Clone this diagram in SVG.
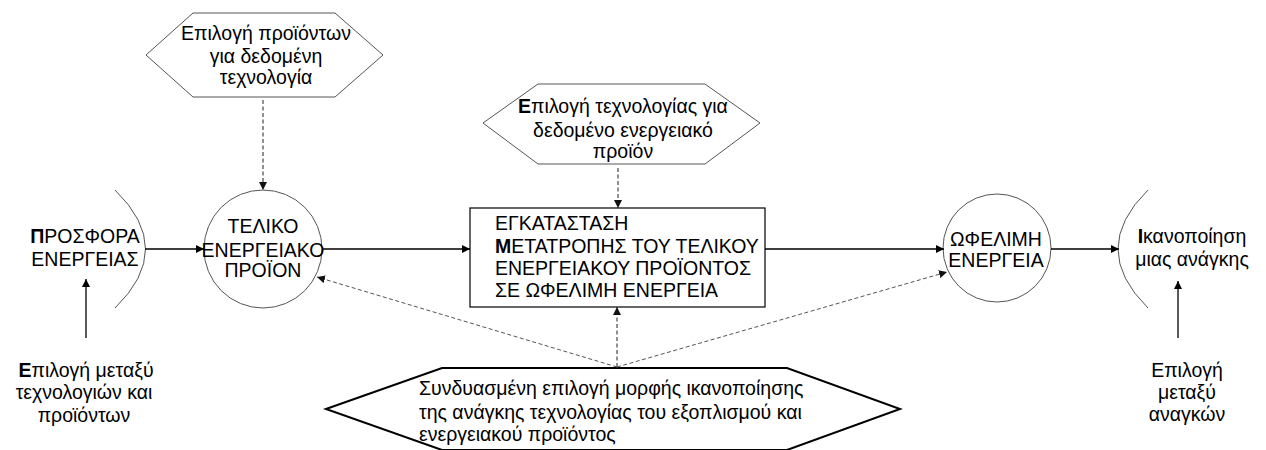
<svg xmlns="http://www.w3.org/2000/svg" width="1266" height="450" viewBox="0 0 1266 450">
<defs>
<marker id="ah" viewBox="0 0 10 10" refX="10" refY="5" markerWidth="8" markerHeight="8" markerUnits="userSpaceOnUse" orient="auto"><path d="M0,0 L10,5 L0,10 z" fill="#000"/></marker>
<marker id="ahs" viewBox="0 0 10 10" refX="10" refY="5" markerWidth="8" markerHeight="8" markerUnits="userSpaceOnUse" orient="auto"><path d="M0,0 L10,5 L0,10 z" fill="#111"/></marker>
<style>
text{font-family:"Liberation Sans",Arial,sans-serif;font-size:19.5px;fill:#000}
.c{text-anchor:middle}
.b{font-weight:bold}
.solid{stroke:#000;stroke-width:1.3;fill:none}
.dash{stroke:#222;stroke-width:1;stroke-dasharray:4,2.5;fill:none}
.dashg{stroke:#555;stroke-width:1;stroke-dasharray:4,2.5;fill:none}
.shape{fill:#fff;stroke:#555;stroke-width:1}
</style>
</defs>
<rect width="1266" height="450" fill="#fff"/>

<g id="supply">
<path d="M115,190 Q176,249 115,308" class="shape" fill="none"/>
<text class="c" x="85" y="243"><tspan class="b">Π</tspan>ΡΟΣΦΟΡΑ</text>
<text class="c" x="85" y="266">ΕΝΕΡΓΕΙΑΣ</text>
</g>

<g id="choice-tech-prod">
<text class="c" x="86" y="377"><tspan class="b">Ε</tspan>πιλογή μεταξύ</text>
<text class="c" x="84" y="399">τεχνολογιών και</text>
<text class="c" x="84" y="422">προϊόντων</text>
</g>

<g id="hex-products">
<polygon class="shape" points="146,55 193,13 335,13 383,55 335,97 193,97"/>
<text class="c" x="266" y="40">Επιλογή προϊόντων</text>
<text class="c" x="266" y="63">για δεδομένη</text>
<text class="c" x="266" y="84">τεχνολογία</text>
</g>

<g id="final-product">
<circle class="shape" cx="263" cy="249" r="59"/>
<text class="c" x="263" y="233">ΤΕΛΙΚΟ</text>
<text class="c" x="263" y="257">ΕΝΕΡΓΕΙΑΚΟ</text>
<text class="c" x="263" y="277">ΠΡΟΪΟΝ</text>
</g>

<g id="hex-tech">
<polygon class="shape" points="483,123 538,84 705,84 760,123 705,164 538,164"/>
<text class="c" x="623" y="113"><tspan class="b">Ε</tspan>πιλογή τεχνολογίας για</text>
<text class="c" x="623" y="137">δεδομένο ενεργειακό</text>
<text class="c" x="623" y="158">προϊόν</text>
</g>

<g id="installation">
<rect x="470" y="208" width="295" height="99" fill="#fff" stroke="#000" stroke-width="1.2"/>
<text x="495" y="230">ΕΓΚΑΤΑΣΤΑΣΗ</text>
<text x="495" y="253"><tspan class="b">Μ</tspan>ΕΤΑΤΡΟΠΗΣ ΤΟΥ ΤΕΛΙΚΟΥ</text>
<text x="495" y="275">ΕΝΕΡΓΕΙΑΚΟΥ ΠΡΟΪΟΝΤΟΣ</text>
<text x="495" y="297">ΣΕ ΩΦΕΛΙΜΗ ΕΝΕΡΓΕΙΑ</text>
</g>

<g id="useful-energy">
<circle class="shape" cx="997" cy="248" r="54"/>
<text class="c" x="996" y="246">ΩΦΕΛΙΜΗ</text>
<text class="c" x="996" y="267">ΕΝΕΡΓΕΙΑ</text>
</g>

<g id="need">
<path d="M1148,190 Q1088,249 1148,308" class="shape" fill="none"/>
<text class="c" x="1192" y="243"><tspan class="b">Ι</tspan>κανοποίηση</text>
<text class="c" x="1192" y="266">μιας ανάγκης</text>
</g>

<g id="choice-needs">
<text class="c" x="1187" y="377">Επιλογή</text>
<text class="c" x="1187" y="399">μεταξύ</text>
<text class="c" x="1187" y="421">αναγκών</text>
</g>

<g id="hex-combined">
<polygon points="326,409 442,368 787,368 900,409 787,450 442,450" fill="#fff" stroke="#000" stroke-width="2"/>
<text x="419" y="395">Συνδυασμένη επιλογή μορφής ικανοποίησης</text>
<text x="419" y="419">της ανάγκης τεχνολογίας του εξοπλισμού και</text>
<text x="419" y="441">ενεργειακού προϊόντος</text>
</g>

<g id="connectors">
<line class="solid" x1="145" y1="249" x2="204" y2="249" marker-end="url(#ah)"/>
<line class="solid" x1="322" y1="249" x2="470" y2="249" marker-end="url(#ah)"/>
<line class="solid" x1="765" y1="249" x2="944" y2="249" marker-end="url(#ah)"/>
<line class="solid" x1="1051" y1="249" x2="1119" y2="249" marker-end="url(#ah)"/>
<line class="solid" x1="86" y1="338" x2="86" y2="279" marker-end="url(#ah)"/>
<line class="solid" x1="1178" y1="338" x2="1178" y2="281" marker-end="url(#ah)"/>
<line class="dash" x1="263" y1="100" x2="263" y2="190" marker-end="url(#ahs)"/>
<line class="dash" x1="618" y1="168" x2="618" y2="208" marker-end="url(#ahs)"/>
<line class="dash" x1="617" y1="367" x2="617" y2="307" marker-end="url(#ahs)"/>
<line class="dashg" x1="617" y1="367" x2="317" y2="277" marker-end="url(#ahs)"/>
<line class="dashg" x1="617" y1="367" x2="947" y2="272" marker-end="url(#ahs)"/>
</g>
</svg>
